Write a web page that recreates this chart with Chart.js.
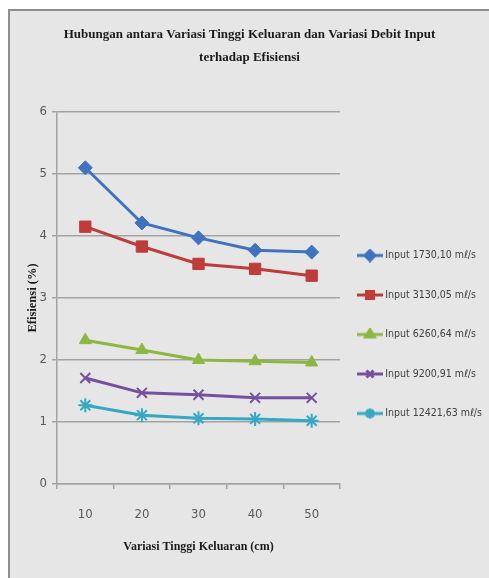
<!DOCTYPE html>
<html><head><meta charset="utf-8">
<script src="https://cdn.jsdelivr.net/npm/chart.js@4.4.1/dist/chart.umd.min.js"></script>
<style>
html,body{margin:0;padding:0;background:#fff;}
#frame{position:absolute;left:8px;top:9px;width:481px;height:569px;box-sizing:border-box;border-left:2px solid #8f8f8f;border-top:2px solid #8f8f8f;background:#e6e6e6;}
canvas{display:block;}
</style></head><body>
<div id="frame"><canvas id="c" width="479" height="567"></canvas></div>
<script>
const categories = ['10', '20', '30', '40', '50'];
const seriesNames = ['Input 1730,10 mℓ/s', 'Input 3130,05 mℓ/s', 'Input 6260,64 mℓ/s', 'Input 9200,91 mℓ/s', 'Input 12421,63 mℓ/s'];
const input1730 = [5.10, 4.21, 3.97, 3.77, 3.74];
const input3130 = [4.15, 3.83, 3.55, 3.47, 3.36];
const input6260 = [2.32, 2.16, 2.00, 1.98, 1.96];
const input9200 = [1.71, 1.47, 1.44, 1.39, 1.39];
const input12421 = [1.27, 1.11, 1.06, 1.05, 1.02];
const yTicks = [0, 1, 2, 3, 4, 5, 6];

const seriesValues = [input1730, input3130, input6260, input9200, input12421];
const colors = ['#3F72BF', '#BE3C3A', '#8DB743', '#7650A0', '#35A9C3'];
const markers = ['rectRot', 'rect', 'triangle', 'crossRot', 'star'];
const radii = [7, 8, 7, 7, 7];
const serifFont = "'Liberation Serif', 'Times New Roman', serif";
const narrowFont = "'Liberation Sans Narrow', 'Arial Narrow', 'DejaVu Sans Condensed', 'Liberation Sans', sans-serif";

function makeIcon(color, style) {
  const c = document.createElement('canvas');
  c.width = 26; c.height = 14;
  const g = c.getContext('2d');
  g.strokeStyle = color; g.lineWidth = 3;
  g.beginPath(); g.moveTo(0, 7); g.lineTo(26, 7); g.stroke();
  g.fillStyle = color; g.strokeStyle = color;
  Chart.helpers.drawPoint(g, {pointStyle: style, radius: 5, borderWidth: 2, rotation: 0}, 13, 7);
  return c;
}
const icons = colors.map((c, i) => makeIcon(c, markers[i]));

const legendShift = {
  id: 'legendShift',
  afterLayout(chart) {
    const l = chart.legend;
    l.left -= 9;
    l.top += 40; l.bottom += 40;
  }
};

new Chart(document.getElementById('c'), {
  type: 'line',
  data: {
    labels: categories,
    datasets: seriesValues.map((vals, i) => ({
      label: seriesNames[i],
      data: vals,
      borderColor: colors[i],
      backgroundColor: colors[i],
      borderWidth: 3,
      pointStyle: markers[i],
      pointRadius: radii[i],
      pointHoverRadius: radii[i],
      pointBorderWidth: (i >= 3) ? 2 : 1,
      pointBackgroundColor: colors[i],
      pointBorderColor: colors[i],
      tension: 0,
      fill: false
    }))
  },
  options: {
    responsive: false,
    animation: false,
    devicePixelRatio: 1,
    layout: {padding: 0},
    plugins: {
      tooltip: {enabled: false},
      title: {
        display: true,
        text: ['Hubungan antara Variasi Tinggi Keluaran dan Variasi Debit Input', 'terhadap Efisiensi'],
        color: '#1a1a1a',
        font: {family: serifFont, size: 13, weight: 'bold', lineHeight: '23px'},
        padding: {top: 12.5, bottom: 42.5}
      },
      legend: {
        position: 'right',
        maxWidth: 149,
        labels: {
          usePointStyle: true,
          pointStyleWidth: 20,
          padding: 29,
          color: '#404040',
          font: {family: narrowFont, size: 10.5},
          generateLabels(chart) {
            const items = Chart.defaults.plugins.legend.labels.generateLabels(chart);
            items.forEach((it, i) => { it.pointStyle = icons[i]; });
            return items;
          }
        }
      }
    },
    scales: {
      x: {
        offset: true,
        grid: {offset: true, drawOnChartArea: false, drawTicks: true, tickLength: 5, color: '#a3a3a3', lineWidth: 1.5},
        border: {color: '#a3a3a3', width: 1.5},
        ticks: {color: '#595959', font: {family: narrowFont, size: 13}, padding: 18},
        title: {display: true, text: 'Variasi Tinggi Keluaran (cm)', color: '#1a1a1a', font: {family: serifFont, size: 12, weight: 'bold'}, padding: {top: 0, bottom: 24}},
        afterFit(s) { s.height = 94; }
      },
      y: {
        min: 0, max: 6,
        afterBuildTicks(s) { s.ticks = yTicks.map(v => ({value: v})); },
        grid: {color: '#a3a3a3', lineWidth: 1.5, tickLength: 5, drawTicks: true},
        border: {color: '#a3a3a3', width: 1.5},
        ticks: {color: '#595959', font: {family: narrowFont, size: 13}, padding: 5},
        title: {display: true, text: 'Efisiensi (%)', color: '#1a1a1a', font: {family: serifFont, size: 12.5, weight: 'bold'}, padding: {top: 15.5, bottom: 0}},
        afterFit(s) { s.width = 47; }
      }
    }
  },
  plugins: [legendShift]
});
</script>
</body></html>
